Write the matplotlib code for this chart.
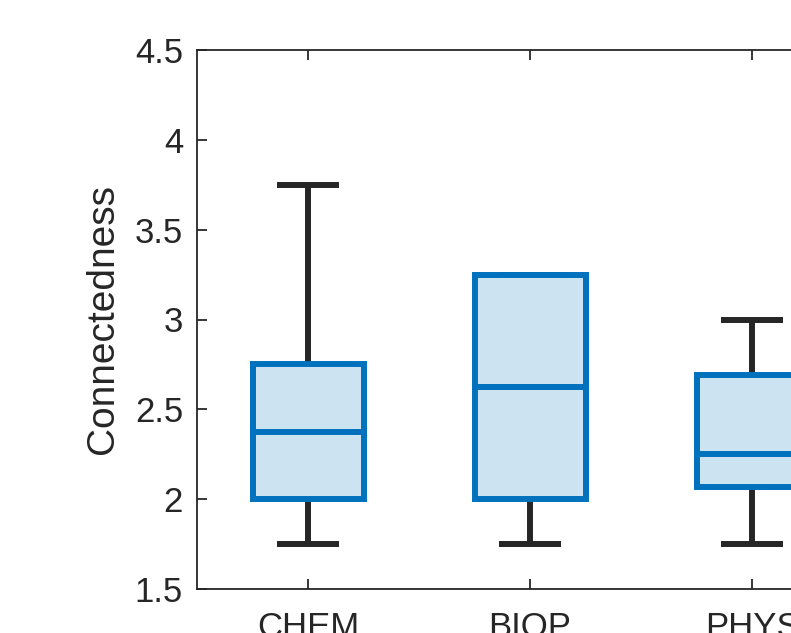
import matplotlib
matplotlib.use('Agg')
import matplotlib.pyplot as plt

groups = ['CHEM', 'BIOP', 'PHYS']
whislo = [1.75, 1.75, 1.75]
q1 = [2.0, 2.0, 2.07]
med = [2.375, 2.625, 2.25]
q3 = [2.75, 3.25, 2.69]
whishi = [3.75, 3.25, 3.0]

plt.rcParams['font.family'] = ['Liberation Sans', 'DejaVu Sans']

fig = plt.figure(figsize=(7.91, 6.33), dpi=100)
# axes run past the right and bottom edge of the picture, as in the reference
ax = fig.add_axes([197 / 791, 44 / 633, 666 / 791, 539 / 633])

stats = []
for i in range(len(groups)):
    stats.append({'label': groups[i], 'whislo': whislo[i], 'q1': q1[i],
                  'med': med[i], 'q3': q3[i], 'whishi': whishi[i], 'fliers': []})

blue = '#0072BD'
dark = '#262626'
ax.bxp(stats, positions=[1, 2, 3], widths=0.5, patch_artist=True,
       showfliers=False,
       boxprops=dict(facecolor='#CCE3F2', edgecolor=blue, linewidth=4.3, zorder=3),
       medianprops=dict(color=blue, linewidth=4.3, zorder=4),
       whiskerprops=dict(color=dark, linewidth=4.3, solid_capstyle='butt', zorder=2),
       capprops=dict(color=dark, linewidth=4.3, zorder=2),
       capwidths=0.25)

ax.set_xlim(0.5, 3.5)
ax.set_ylim(1.5, 4.5)
ax.set_yticks([1.5, 2, 2.5, 3, 3.5, 4, 4.5])
ax.set_yticklabels(['1.5', '2', '2.5', '3', '3.5', '4', '4.5'])
ax.set_ylabel('Connectedness', fontsize=28, color=dark, labelpad=10)
ax.tick_params(direction='in', length=7, width=1.3, labelsize=25,
               colors=dark, top=True, right=True, pad=10)
ax.tick_params(axis='x', pad=16)
for s in ax.spines.values():
    s.set_linewidth(1.3)
    s.set_color(dark)

fig.savefig('out.png', dpi=100)
